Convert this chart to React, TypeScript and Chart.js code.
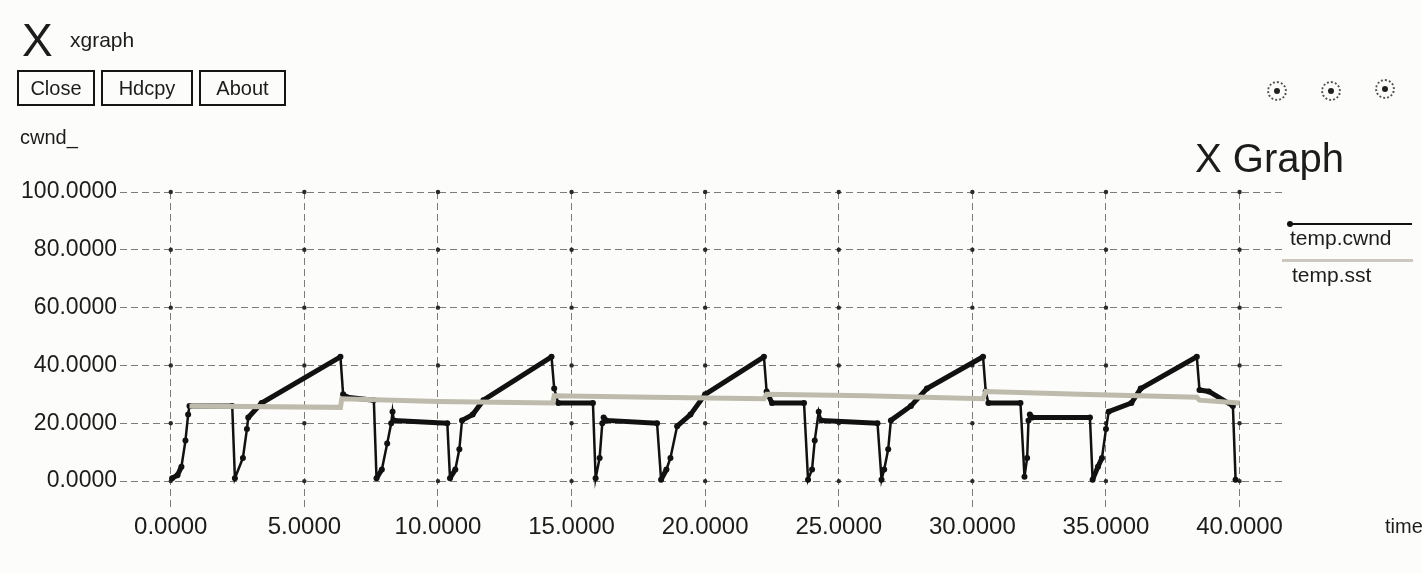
import React, { useEffect, useRef } from "react";
import { Chart, registerables } from "chart.js";

Chart.register(...registerables);

// ---- data ----
const seriesNames = ["temp.cwnd", "temp.sst"];

const cwndTime = [
  0.05, 0.25, 0.4, 0.55, 0.65, 0.7, 2.3, 2.4, 2.7, 2.85, 2.9, 3.4, 6.35, 6.45, 6.6, 7.6,
  7.7, 7.9, 8.1, 8.25, 8.3, 8.35, 10.35, 10.45, 10.65, 10.8, 10.9, 11.3, 11.7, 14.25, 14.35, 14.5, 15.8,
  15.9, 16.05, 16.15, 16.2, 16.3, 18.2, 18.35, 18.55, 18.7, 18.95, 19.45, 20.0, 22.2, 22.3, 22.5, 23.7,
  23.85, 24.0, 24.1, 24.25, 24.35, 26.45, 26.6, 26.7, 26.85, 26.95, 27.7, 28.3, 30.4, 30.5, 30.6, 31.8,
  31.95, 32.05, 32.1, 32.15, 32.25, 34.4, 34.5, 34.7, 34.85, 35.0, 35.1, 35.95, 36.3, 38.4, 38.5, 38.85,
  39.75, 39.85,
];
const cwndValue = [
  1, 2, 5, 14, 23, 26, 26, 1, 8, 18, 22, 27, 43, 30, 29, 28,
  1, 4, 13, 20, 24, 21, 20, 1, 4, 11, 21, 23, 28, 43, 32, 27, 27,
  1, 8, 20, 22, 21, 20, 0.5, 4, 8, 19, 23, 30, 43, 31, 27, 27,
  0.5, 4, 14, 24, 21, 20, 0.5, 4, 11, 21, 26, 32, 43, 31, 27, 27,
  1.5, 8, 21, 23, 22, 22, 0.5, 5, 8, 18, 24, 27, 32, 43, 31.5, 31,
  26, 0.5,
];

const sstTime = [0.7, 6.35, 6.4, 10, 14.3, 14.35, 18, 22.2, 22.3, 26, 30.4, 30.5, 34, 38.4, 38.5, 40];
const sstValue = [26, 25.5, 28.5, 27.5, 27, 29.5, 29, 28.5, 30, 29.5, 28.5, 31, 30, 29, 28, 27];

const xTicks = [0, 5, 10, 15, 20, 25, 30, 35, 40];
const yTicks = [0, 20, 40, 60, 80, 100];

const FONT = "'Liberation Sans', Arial, Helvetica, sans-serif";
const INK = "#1c1c1c";

export default function App() {
  const canvasRef = useRef<HTMLCanvasElement>(null);

  useEffect(() => {
    const canvas = canvasRef.current;
    if (!canvas) return;

    const gridDots = {
      id: "gridDots",
      beforeDatasetsDraw(chart: any) {
        const { ctx } = chart;
        const xs = chart.scales.x;
        const ys = chart.scales.y;
        ctx.save();
        ctx.fillStyle = "#2a2a2a";
        for (const xv of xTicks) {
          for (const yv of yTicks) {
            ctx.beginPath();
            ctx.arc(xs.getPixelForValue(xv), ys.getPixelForValue(yv), 2.2, 0, Math.PI * 2);
            ctx.fill();
          }
        }
        ctx.restore();
      },
    };

    const chart = new Chart(canvas, {
      type: "line",
      data: {
        datasets: [
          {
            label: seriesNames[1],
            data: sstTime.map((t, i) => ({ x: t, y: sstValue[i] })),
            borderColor: "rgb(190,186,172)",
            borderWidth: 5,
            pointRadius: 0,
            tension: 0,
            order: 0,
          },
          {
            label: seriesNames[0],
            data: cwndTime.map((t, i) => ({ x: t, y: cwndValue[i] })),
            borderColor: "#111",
            borderWidth: 3,
            pointRadius: 3,
            pointBackgroundColor: "#111",
            pointBorderWidth: 0,
            tension: 0,
            order: 1,
            segment: {
              borderWidth: (c: any) =>
                Math.abs(c.p1.y - c.p0.y) > 2.5 * Math.abs(c.p1.x - c.p0.x) ? 2.5 : 5,
            },
          },
        ],
      },
      options: {
        animation: false,
        responsive: false,
        devicePixelRatio: 1,
        layout: { padding: { left: 0, right: 137, top: 192, bottom: 0 } },
        plugins: {
          legend: { display: false },
          title: { display: false },
          tooltip: { enabled: false },
        },
        scales: {
          x: {
            type: "linear",
            min: -1.9,
            max: 41.7,
            afterBuildTicks: (s: any) => {
              s.ticks = xTicks.map((v) => ({ value: v }));
            },
            afterFit: (s: any) => {
              s.height = 63;
            },
            ticks: {
              callback: (v: any) => Number(v).toFixed(4),
              font: { family: FONT, size: 24 },
              color: INK,
              padding: 3,
              maxRotation: 0,
              autoSkip: false,
            },
            grid: { color: "rgba(45,35,35,0.6)", lineWidth: 1, drawTicks: false },
            border: { display: false, dash: [7, 4] },
          },
          y: {
            type: "linear",
            min: -10,
            max: 100,
            afterBuildTicks: (s: any) => {
              s.ticks = yTicks.map((v) => ({ value: v }));
            },
            afterFit: (s: any) => {
              s.width = 120;
            },
            ticks: {
              callback: (v: any) => Number(v).toFixed(4),
              font: { family: FONT, size: 23 },
              color: INK,
              padding: 3,
              autoSkip: false,
            },
            grid: { color: "rgba(45,35,35,0.6)", lineWidth: 1, drawTicks: false },
            border: { display: false, dash: [7, 4] },
          },
        },
      },
      plugins: [gridDots],
    } as any);

    return () => chart.destroy();
  }, []);

  const abs = (s: React.CSSProperties): React.CSSProperties => ({ position: "absolute", ...s });
  const button = (left: number, width: number, text: string) => (
    <div
      style={abs({
        left,
        top: 70,
        width,
        height: 36,
        boxSizing: "border-box",
        border: "2px solid #151515",
        fontSize: 20,
        lineHeight: "32px",
        textAlign: "center",
      })}
    >
      {text}
    </div>
  );
  const radio = (cx: number, cy: number) => (
    <div
      style={abs({
        left: cx - 10,
        top: cy - 10,
        width: 20,
        height: 20,
        boxSizing: "border-box",
        borderRadius: "50%",
        border: "2px dotted #555",
      })}
    >
      <div style={abs({ left: 5, top: 5, width: 6, height: 6, borderRadius: "50%", background: "#222" })} />
    </div>
  );

  return (
    <div
      style={abs({
        left: 0,
        top: 0,
        width: 1422,
        height: 573,
        overflow: "hidden",
        background: "#fcfcfb",
        fontFamily: FONT,
        color: INK,
      })}
    >
      <canvas ref={canvasRef} width={1422} height={573} style={abs({ left: 0, top: 0, width: 1422, height: 573 })} />
      <div style={abs({ left: 22, top: 17, fontSize: 46, lineHeight: 1 })}>X</div>
      <div style={abs({ left: 70, top: 29, fontSize: 21, lineHeight: 1 })}>xgraph</div>
      {button(17, 78, "Close")}
      {button(101, 92, "Hdcpy")}
      {button(199, 87, "About")}
      {radio(1277, 91)}
      {radio(1331, 91)}
      {radio(1385, 89)}
      <div style={abs({ left: 20, top: 127, fontSize: 20, lineHeight: 1 })}>cwnd_</div>
      <div style={abs({ left: 1195, top: 138, fontSize: 40, lineHeight: 1 })}>X Graph</div>
      <div style={abs({ left: 1290, top: 223, width: 122, height: 2, background: "#111" })} />
      <div style={abs({ left: 1287, top: 221, width: 6, height: 6, borderRadius: "50%", background: "#111" })} />
      <div style={abs({ left: 1290, top: 227, fontSize: 21, lineHeight: 1 })}>{seriesNames[0]}</div>
      <div style={abs({ left: 1282, top: 259, width: 131, height: 3, background: "rgb(205,200,190)" })} />
      <div style={abs({ left: 1292, top: 264, fontSize: 21, lineHeight: 1 })}>{seriesNames[1]}</div>
      <div style={abs({ left: 1385, top: 516, fontSize: 20, lineHeight: 1 })}>time</div>
    </div>
  );
}
